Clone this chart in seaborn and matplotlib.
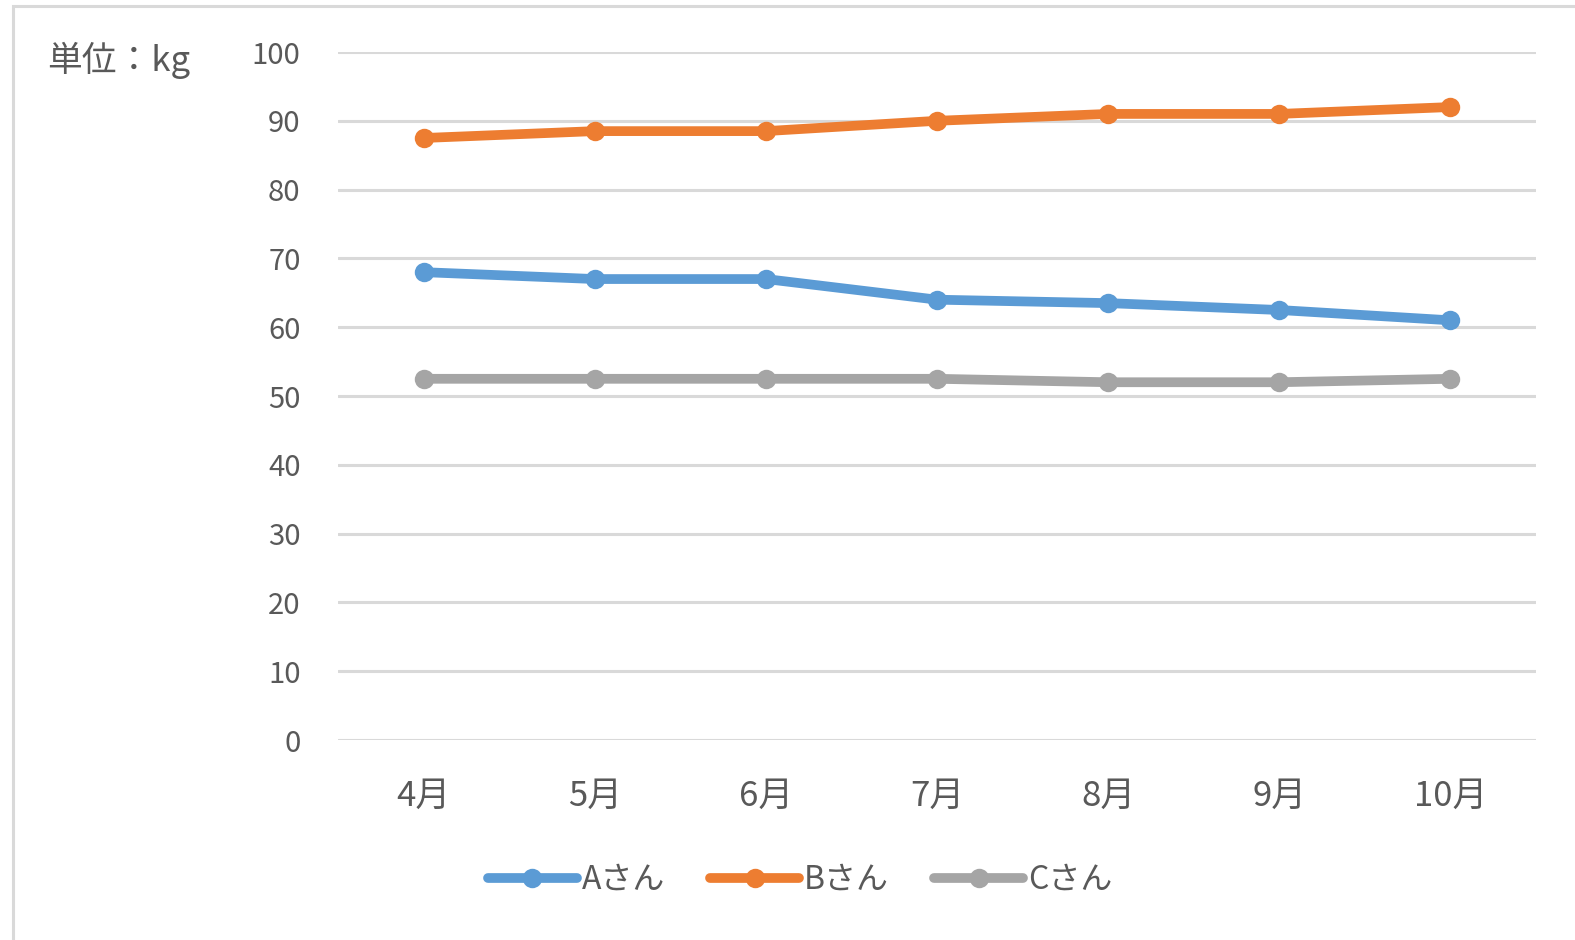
import matplotlib
matplotlib.use("Agg")
import matplotlib.pyplot as plt
from matplotlib.patches import Rectangle
from matplotlib.lines import Line2D
import seaborn as sns
import pandas as pd

# Monthly weight (kg) per person
months = ["4月", "5月", "6月", "7月", "8月", "9月", "10月"]
a_san = [68, 67, 67, 64, 63.5, 62.5, 61]
b_san = [87.5, 88.5, 88.5, 90, 91, 91, 92]
c_san = [52.5, 52.5, 52.5, 52.5, 52, 52, 52.5]
series_names = ["Aさん", "Bさん", "Cさん"]
y_ticks = [0, 10, 20, 30, 40, 50, 60, 70, 80, 90, 100]

colors = ["#5B9BD5", "#ED7D31", "#A5A5A5"]
text_color = "#595959"
grid_color = "#D9D9D9"

sns.set_theme(style="white")
plt.rcParams["font.family"] = ["Noto Sans CJK JP", "DejaVu Sans"]

rows = []
for name, vals in zip(series_names, [a_san, b_san, c_san]):
    for i, v in enumerate(vals):
        rows.append({"pos": i, "weight": v, "person": name})
df = pd.DataFrame(rows)

fig = plt.figure(figsize=(15.75, 9.4), dpi=100)
W, H = 1575, 940
ax = fig.add_axes([338 / W, 1 - 740 / H, (1536 - 338) / W, (740 - 52) / H])

# outer chart frame
fig.patches.append(Rectangle((13 / W, -0.1), 1.2, 1 - 6 / H + 0.1,
                             transform=fig.transFigure, fill=False,
                             edgecolor=grid_color, linewidth=2.2, zorder=0))

sns.lineplot(data=df, x="pos", y="weight", hue="person",
             palette=dict(zip(series_names, colors)),
             marker="o", markersize=14, markeredgewidth=0,
             linewidth=7, ax=ax, legend=False, zorder=3)

ax.set_xlim(-0.5, len(months) - 0.5)
ax.set_ylim(0, 100)
ax.set_yticks(y_ticks)
ax.set_yticklabels([str(t) for t in y_ticks], fontsize=21, color=text_color)
ax.set_xticks(range(len(months)))
ax.set_xticklabels(months, fontsize=25, color=text_color)
ax.tick_params(axis="y", length=0, pad=27)
ax.tick_params(axis="x", length=0, pad=28)
ax.set_xlabel("")
ax.set_ylabel("")
ax.grid(axis="y", color=grid_color, linewidth=2.2)
ax.set_axisbelow(True)
for s in ax.spines.values():
    s.set_visible(False)

fig.text(47 / W, 1 - 60 / H, "単位：kg", fontsize=25, color=text_color,
         ha="left", va="center")

handles = [Line2D([0], [0], color=c, linewidth=7, marker="o", markersize=14,
                  markeredgewidth=0) for c in colors]
fig.legend(handles, series_names, loc="center", bbox_to_anchor=(800 / W, 1 - 880 / H),
           ncol=3, frameon=False, fontsize=23, handlelength=2.8,
           handletextpad=0.15, columnspacing=1.4, labelcolor=text_color)

fig.savefig("out.png", dpi=100, facecolor="white")
